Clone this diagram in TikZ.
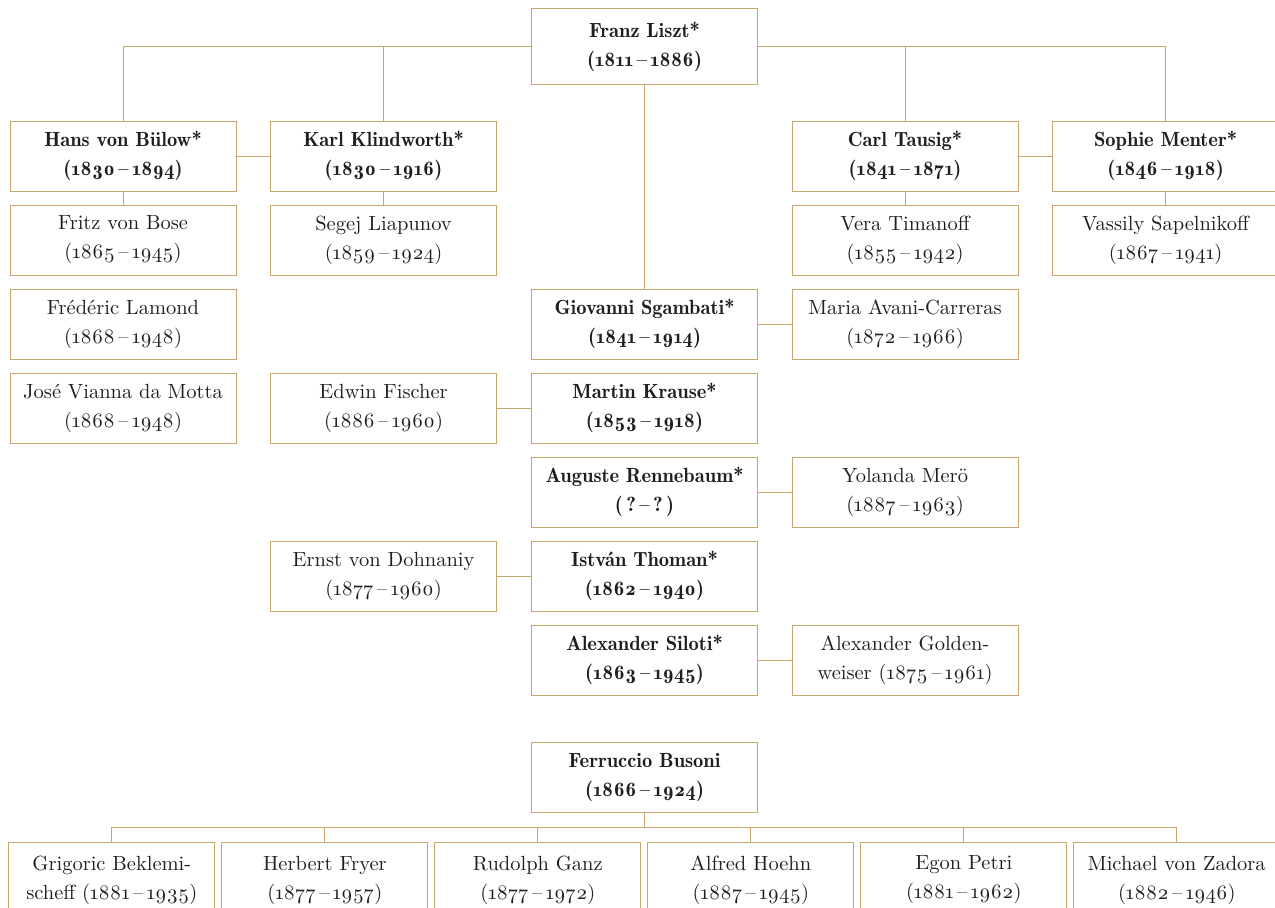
\documentclass[tikz,border=0pt]{standalone}
\usepackage{fontspec}
\setmainfont{lmroman10-regular}[Extension=.otf, BoldFont=lmromandemi10-regular]
\usetikzlibrary{calc}
\definecolor{linegold}{RGB}{198,166,108}
\definecolor{inkdark}{RGB}{34,30,31}
\newcommand\yrs[2]{(\oldstylenums{#1}\,--\,\oldstylenums{#2})}
\tikzset{
  pbox/.style={draw=linegold, line width=1.1pt, fill=white, minimum width=226pt,
    minimum height=70pt, inner sep=0pt, align=center, text=inkdark,
    anchor=north west, font=\fontsize{20.5}{29}\selectfont},
  mbox/.style={pbox, font=\fontsize{20.5}{29}\selectfont\bfseries},
  sbox/.style={pbox, minimum width=206pt, minimum height=76pt},
  link/.style={draw=linegold, line width=1.1pt},
}
\begin{document}
\begin{tikzpicture}[x=1pt, y=-1pt]
\useasboundingbox (0,0) rectangle (1275,908);
\clip (0,0) rectangle (1275,908);
\fill[white] (0,0) rectangle (1275,908);

% Liszt and his direct pupils
\node[mbox, minimum height=76pt] (liszt) at (531,8.3) {Franz Liszt*\\\yrs{1811}{1886}};

\node[mbox] (buelow) at (9.5,120.5) {Hans von Bülow*\\\yrs{1830}{1894}};
\node[mbox] (klind) at (270,120.5) {Karl Klindworth*\\\yrs{1830}{1916}};
\node[mbox] (tausig) at (791.5,120.5) {Carl Tausig*\\\yrs{1841}{1871}};
\node[mbox] (menter) at (1052,120.5) {Sophie Menter*\\\yrs{1846}{1918}};

\node[pbox] (bose) at (9.5,204.5) {Fritz von Bose\\\yrs{1865}{1945}};
\node[pbox] (liapunov) at (270,204.5) {Segej Liapunov\\\yrs{1859}{1924}};
\node[pbox] (timanoff) at (791.5,204.5) {Vera Timanoff\\\yrs{1855}{1942}};
\node[pbox] (sapelnikoff) at (1052,204.5) {Vassily Sapelnikoff\\\yrs{1867}{1941}};

\node[pbox] (lamond) at (9.5,288.5) {Frédéric Lamond\\\yrs{1868}{1948}};
\node[pbox] (motta) at (9.5,372.5) {José Vianna da Motta\\\yrs{1868}{1948}};

\node[mbox] (sgambati) at (531,288.5) {Giovanni Sgambati*\\\yrs{1841}{1914}};
\node[pbox] (avani) at (791.5,288.5) {Maria Avani-Carreras\\\yrs{1872}{1966}};

\node[pbox] (fischer) at (270,372.5) {Edwin Fischer\\\yrs{1886}{1960}};
\node[mbox] (krause) at (531,372.5) {Martin Krause*\\\yrs{1853}{1918}};

\node[mbox] (renne) at (531,456.5) {Auguste Rennebaum*\\(\,?\,--\,?\,)};
\node[pbox] (meroe) at (791.5,456.5) {Yolanda Merö\\\yrs{1887}{1963}};

\node[pbox] (dohnanyi) at (270,540.5) {Ernst von Dohnaniy\\\yrs{1877}{1960}};
\node[mbox] (thoman) at (531,540.5) {István Thoman*\\\yrs{1862}{1940}};

\node[mbox] (siloti) at (531,624.5) {Alexander Siloti*\\\yrs{1863}{1945}};
\node[pbox] (golden) at (791.5,624.5) {Alexander Golden-\\weiser \yrs{1875}{1961}};

% Busoni and his pupils
\node[mbox] (busoni) at (531,742) {Ferruccio Busoni\\\yrs{1866}{1924}};

\node[sbox] (bekl) at (8.3,841.5) {Grigoric Beklemi-\\scheff \yrs{1881}{1935}};
\node[sbox] (fryer) at (221.3,841.5) {Herbert Fryer\\\yrs{1877}{1957}};
\node[sbox] (ganz) at (434.3,841.5) {Rudolph Ganz\\\yrs{1877}{1972}};
\node[sbox] (hoehn) at (647.3,841.5) {Alfred Hoehn\\\yrs{1887}{1945}};
\node[sbox] (petri) at (860.3,841.5) {Egon Petri\\\yrs{1881}{1962}};
\node[sbox] (zadora) at (1073.3,841.5) {Michael von Zadora\\\yrs{1882}{1946}};

% connectors from Liszt
\draw[link] (liszt.west) -| (buelow.north);
\draw[link] (klind.north) -- (klind.north |- liszt.west);
\draw[link] (liszt.east) -| (menter.north);
\draw[link] (tausig.north) -- (tausig.north |- liszt.east);
\draw[link] (liszt.south) -- (sgambati.north);

% side links between teachers
\draw[link] (buelow.east) -- (klind.west);
\draw[link] (tausig.east) -- (menter.west);

% teacher to pupil
\draw[link] (buelow.south) -- (bose.north);
\draw[link] (klind.south) -- (liapunov.north);
\draw[link] (tausig.south) -- (timanoff.north);
\draw[link] (menter.south) -- (sapelnikoff.north);
\draw[link] (sgambati.east) -- (avani.west);
\draw[link] (fischer.east) -- (krause.west);
\draw[link] (renne.east) -- (meroe.west);
\draw[link] (dohnanyi.east) -- (thoman.west);
\draw[link] (siloti.east) -- (golden.west);

% Busoni's bracket
\coordinate (bus) at ($(busoni.south)+(0,14)$);
\draw[link] (busoni.south) -- (bus);
\draw[link] (bekl.north) |- (bus) -| (zadora.north);
\foreach \p in {fryer,ganz,hoehn,petri}
  \draw[link] (\p.north) -- (\p.north |- bus);
\end{tikzpicture}
\end{document}
